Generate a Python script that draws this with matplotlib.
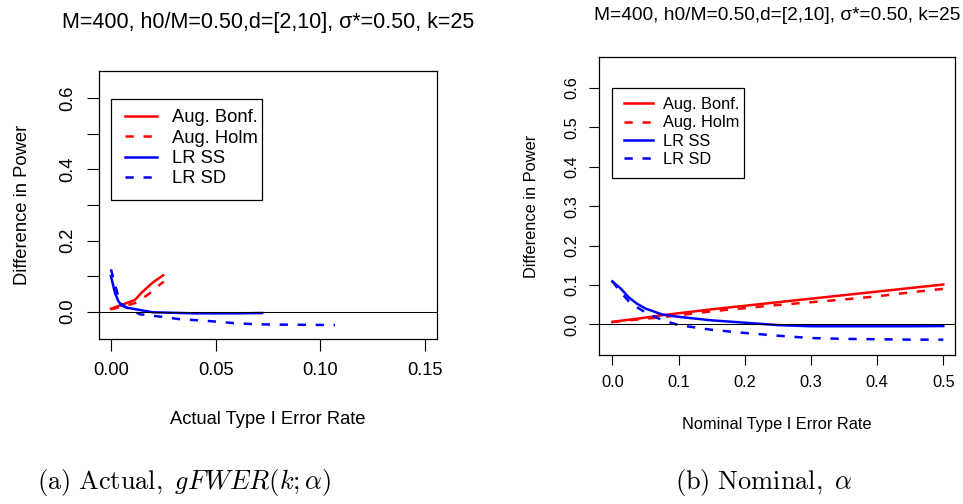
import matplotlib
matplotlib.use("Agg")
import matplotlib.pyplot as plt
from matplotlib.patches import Rectangle

plt.rcParams["font.family"] = ["Liberation Sans", "DejaVu Sans"]
plt.rcParams["mathtext.fontset"] = "cm"

TITLE = "M=400, h0/M=0.50,d=[2,10], \u03c3*=0.50, k=25"
LABELS = ["Aug. Bonf.", "Aug. Holm", "LR SS", "LR SD"]

# (a) difference in power vs actual type I error rate
act_bonf_x = [0, 0.0114, 0.0146, 0.0194, 0.0217, 0.0249]
act_bonf_y = [0.008, 0.0325, 0.053, 0.079, 0.089, 0.102]
act_holm_x = [0, 0.006, 0.0122, 0.0178, 0.020, 0.024, 0.0252]
act_holm_y = [0.0065, 0.015, 0.025, 0.0485, 0.058, 0.079, 0.084]
act_ss_x = [0, 0.0019, 0.0035, 0.005, 0.0075, 0.0138, 0.020, 0.040, 0.060, 0.0722]
act_ss_y = [0.100, 0.053, 0.030, 0.0177, 0.011, 0.0045, -0.002, -0.005, -0.005, -0.004]
act_sd_x = [0, 0.0011, 0.0043, 0.0075, 0.0138, 0.0233, 0.033, 0.0431, 0.0519,
            0.0598, 0.0694, 0.078, 0.090, 0.107]
act_sd_y = [0.119, 0.095, 0.025, 0.011, -0.0075, -0.014, -0.0215, -0.025, -0.029,
            -0.033, -0.0356, -0.0366, -0.037, -0.038]

# (b) difference in power vs nominal alpha
alpha = [0, 0.0125, 0.025, 0.0375, 0.05, 0.075, 0.1, 0.15, 0.2, 0.25, 0.3, 0.35, 0.4, 0.45, 0.5]
nom_bonf = [0.006, 0.009, 0.0115, 0.014, 0.017, 0.023, 0.028, 0.038, 0.047, 0.056, 0.065, 0.074, 0.083, 0.092, 0.101]
nom_holm = [0.006, 0.008, 0.010, 0.012, 0.014, 0.018, 0.023, 0.033, 0.041, 0.049, 0.056, 0.063, 0.071, 0.081, 0.090]
nom_ss = [0.109, 0.091, 0.068, 0.052, 0.040, 0.025, 0.019, 0.010, 0.004, -0.002, -0.005, -0.005, -0.005, -0.005, -0.0045]
nom_sd = [0.109, 0.082, 0.058, 0.043, 0.030, 0.011, -0.002, -0.014, -0.022, -0.029, -0.035, -0.037, -0.038, -0.039, -0.039]

W, H = 963, 504
fig = plt.figure(figsize=(W / 100, H / 100), dpi=100)


def frac(x0, y0, x1, y1):
    return [x0 / W, 1 - y1 / H, (x1 - x0) / W, (y1 - y0) / H]


ax1 = fig.add_axes(frac(99, 70.7, 437, 339.3))
ax2 = fig.add_axes(frac(598.7, 57.3, 955, 355))

LW = 1.8
DASH = (3.3, 3.9)


def draw(ax, series, fs, tfs, xticks, xticklabels, yticklabels, xlabel, xlim,
         ticklen, pad, title_y, xlabel_y, ylabel_x, legbox, leganchor, labsp, htp):
    for (x, y), lab in zip(series, LABELS):
        color = "#ff0000" if "Aug" in lab else "#0000ff"
        ln, = ax.plot(x, y, color=color, lw=LW, label=lab)
        if lab in ("Aug. Holm", "LR SD"):
            ln.set_dashes(DASH)
    ax.axhline(0, color="black", lw=0.75, zorder=3)
    ax.set_xlim(*xlim)
    ax.set_ylim(-0.078, 0.678)
    ax.set_xticks(xticks)
    ax.set_xticklabels(xticklabels, fontsize=fs)
    ax.set_yticks([0, 0.1, 0.2, 0.3, 0.4, 0.5, 0.6])
    ax.set_yticklabels(yticklabels, fontsize=fs, rotation=90, va="center")
    ax.tick_params(length=ticklen, width=0.8, pad=pad)
    for s in ax.spines.values():
        s.set_linewidth(0.9)
    ax.set_xlabel(xlabel, fontsize=fs)
    ax.xaxis.set_label_coords(0.5, xlabel_y)
    ax.xaxis.label.set_va("center")
    ax.set_ylabel("Difference in Power", fontsize=fs)
    ax.yaxis.set_label_coords(ylabel_x, 0.5)
    ax.yaxis.label.set_va("center")
    ax.set_title(TITLE, fontsize=tfs, y=title_y, va="center", pad=0)
    # legend box drawn separately (R legends hug the text on the right)
    ax.add_patch(Rectangle(legbox[:2], legbox[2], legbox[3], transform=ax.transAxes,
                           facecolor="white", edgecolor="black", lw=0.9, zorder=4))
    leg = ax.legend(loc="upper left", bbox_to_anchor=leganchor, borderaxespad=0,
                    borderpad=0, fontsize=fs, frameon=False, handlelength=1.75,
                    labelspacing=labsp, handletextpad=htp)
    leg.set_zorder(5)


draw(ax1,
     [(act_bonf_x, act_bonf_y), (act_holm_x, act_holm_y),
      (act_ss_x, act_ss_y), (act_sd_x, act_sd_y)],
     13.2, 15.5, [0, 0.05, 0.10, 0.15], ["0.00", "0.05", "0.10", "0.15"],
     ["0.0", "", "0.2", "", "0.4", "", "0.6"],
     "Actual Type I Error Rate", (-0.0057, 0.1557),
     8.5, 8, 1.178, -0.30, -0.226,
     (0.0355, 0.5186, 0.4467, 0.376), (0.0769, 0.856), 0.18, 0.8)

draw(ax2,
     [(alpha, nom_bonf), (alpha, nom_holm), (alpha, nom_ss), (alpha, nom_sd)],
     11.8, 13.8, [0, 0.1, 0.2, 0.3, 0.4, 0.5], ["0.0", "0.1", "0.2", "0.3", "0.4", "0.5"],
     ["0.0", "0.1", "0.2", "0.3", "0.4", "0.5", "0.6"],
     "Nominal Type I Error Rate", (-0.0206, 0.5177),
     7.2, 7, 1.142, -0.232, -0.19,
     (0.0373, 0.5956, 0.3696, 0.3003), (0.071, 0.866), 0.2, 0.65)

fig.text(184 / W, 1 - 483 / H, r"$\mathrm{(a)\ Actual,}\ gFWER(k;\alpha)$",
         fontsize=19, ha="center", va="center")
fig.text(764 / W, 1 - 483 / H, r"$\mathrm{(b)\ Nominal,}\ \alpha$",
         fontsize=19, ha="center", va="center")

fig.savefig("out.png", dpi=100)
